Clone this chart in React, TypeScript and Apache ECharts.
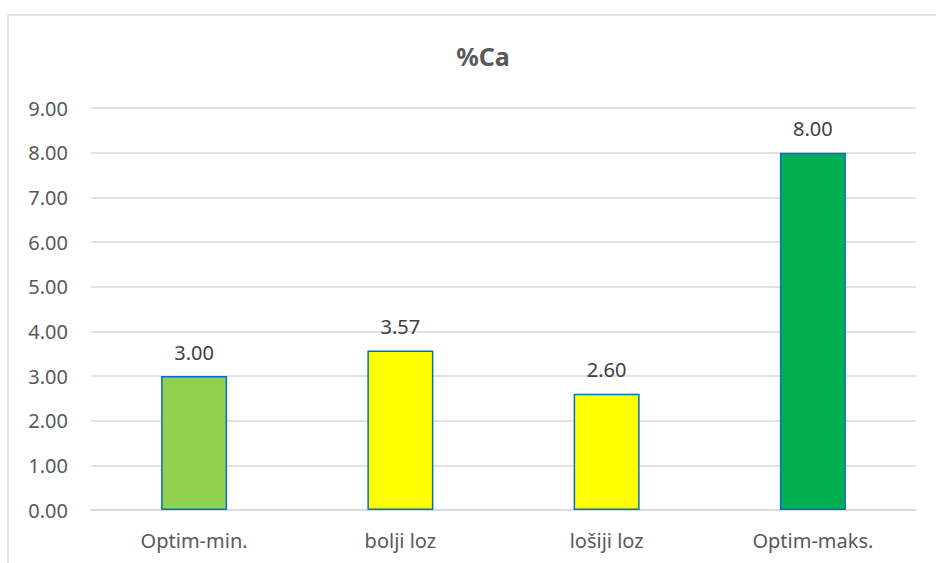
import React, { useEffect, useRef } from "react";
import * as echarts from "echarts";

const categories = ["Optim-min.", "bolji loz", "lošiji loz", "Optim-maks."];
const values = [3.0, 3.57, 2.6, 8.0];
const barColors = ["#92D050", "#FFFF00", "#FFFF00", "#00B050"];
const titleText = "%Ca";

export default function App() {
  const ref = useRef<HTMLDivElement>(null);
  useEffect(() => {
    if (!ref.current) return;
    const chart = echarts.init(ref.current, null, { renderer: "svg" });
    const font = "'Noto Sans', 'Open Sans', sans-serif";
    chart.setOption({
      animation: false,
      backgroundColor: "#ffffff",
      title: {
        text: titleText,
        left: 478,
        top: 38,
        textAlign: "center",
        textStyle: { fontFamily: font, fontSize: 25, fontWeight: "bold", color: "#595959" },
      },
      graphic: [
        {
          type: "rect",
          shape: { x: 8, y: 15, width: 940, height: 560 },
          style: { fill: "none", stroke: "#D9D9D9", lineWidth: 1.5 },
          silent: true,
        },
      ],
      grid: { left: 91, right: 20, top: 108, bottom: 53 },
      xAxis: {
        type: "category",
        data: categories,
        axisLine: { show: true, lineStyle: { color: "#D9D9D9", width: 1.5 } },
        axisTick: { show: false },
        axisLabel: { fontFamily: font, fontSize: 20, color: "#595959", margin: 20 },
      },
      yAxis: {
        type: "value",
        min: 0,
        max: 9,
        interval: 1,
        axisLine: { show: false },
        axisTick: { show: false },
        splitLine: { lineStyle: { color: "#D9D9D9", width: 1.5 } },
        axisLabel: {
          fontFamily: font,
          fontSize: 20,
          color: "#595959",
          margin: 23,
          formatter: (v: number) => v.toFixed(2),
        },
      },
      series: [
        {
          type: "bar",
          barWidth: "32%",
          data: values.map((v, i) => ({
            value: v,
            itemStyle: { color: barColors[i], borderColor: "#0070C0", borderWidth: 1.5 },
          })),
          label: {
            show: true,
            position: "top",
            distance: 14,
            fontFamily: font,
            fontSize: 20,
            color: "#404040",
            formatter: (p: any) => Number(p.value).toFixed(2),
          },
        },
      ],
    });
    return () => chart.dispose();
  }, []);
  return (
    <div
      ref={ref}
      style={{ position: "fixed", left: 0, top: 0, width: 936, height: 563 }}
    />
  );
}
